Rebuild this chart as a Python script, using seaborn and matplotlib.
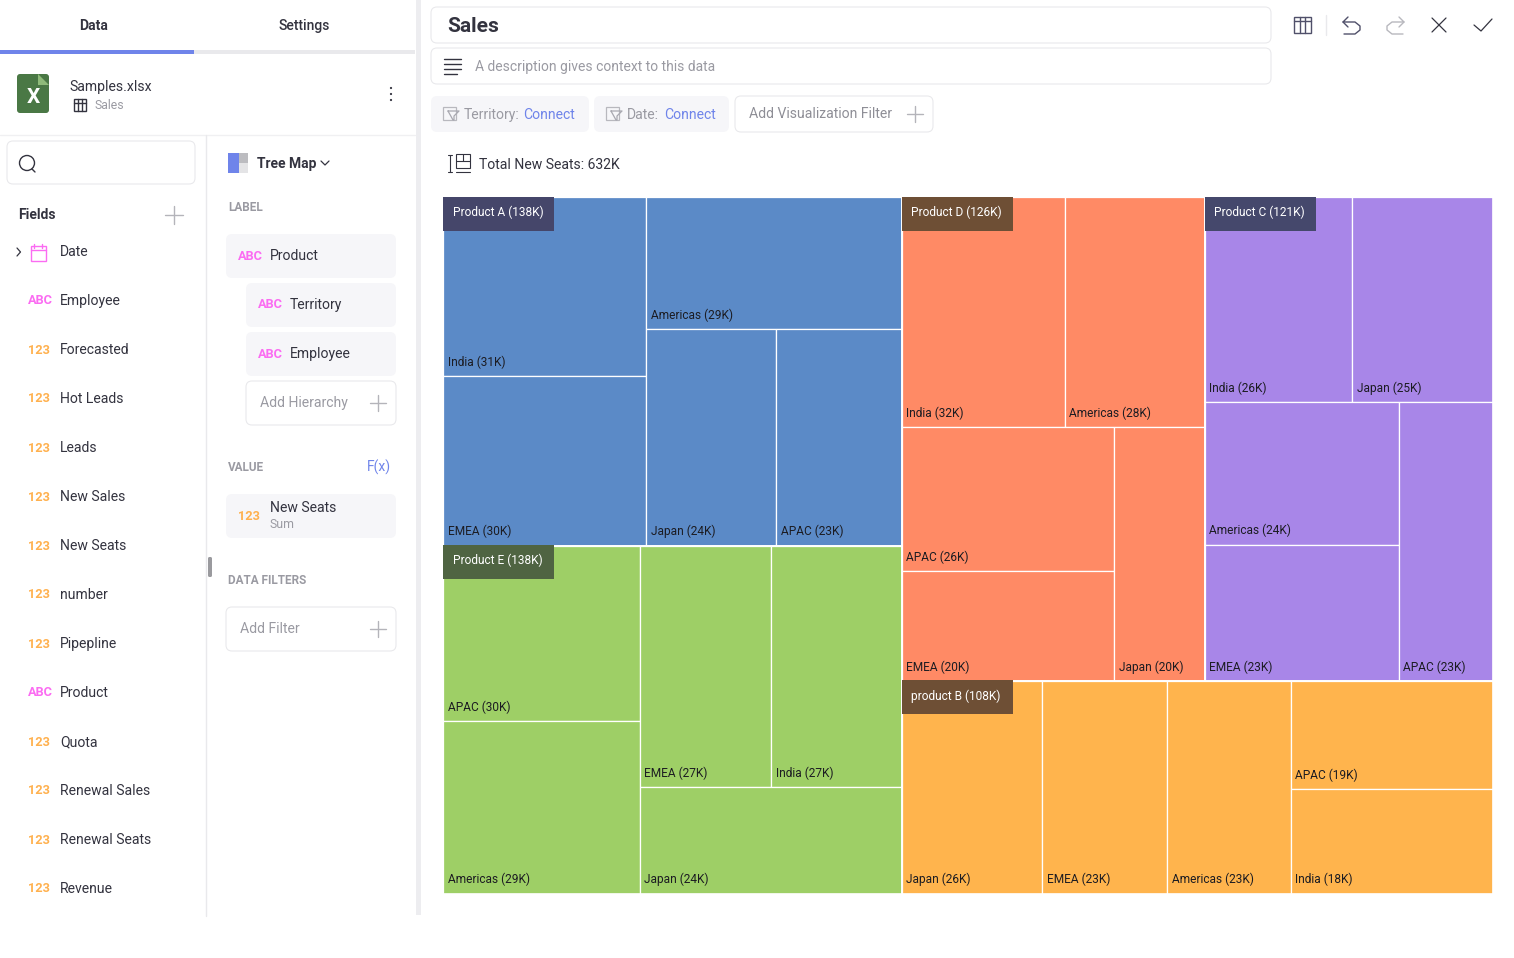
# imports ---------------------------------------------------------------------
import seaborn as sns
from matplotlib import pyplot as plt
from matplotlib.patches import Rectangle, FancyBboxPatch, Circle

# data ------------------------------------------------------------------------
products = ['Product A', 'Product E', 'Product D', 'Product C', 'product B']
product_totals = [138, 138, 126, 121, 108]
territories_a = ['India', 'EMEA', 'Americas', 'Japan', 'APAC']
seats_a = [31.4, 29.8, 29.2, 24.3, 23.4]
territories_e = ['APAC', 'Americas', 'EMEA', 'India', 'Japan']
seats_e = [29.8, 29.3, 27.4, 27.2, 24.1]
territories_d = ['India', 'Americas', 'APAC', 'EMEA', 'Japan']
seats_d = [32.4, 27.9, 26.49, 20.1, 19.8]
territories_c = ['India', 'Japan', 'Americas', 'EMEA', 'APAC']
seats_c = [26.1, 25.0, 23.8, 22.8, 22.7]
territories_b = ['Japan', 'EMEA', 'Americas', 'APAC', 'India']
seats_b = [25.8, 23.0, 22.7, 18.9, 18.2]

field_names = ['Employee', 'Forecasted', 'Hot Leads', 'Leads', 'New Sales', 'New Seats',
               'number', 'Pipepline', 'Product', 'Quota', 'Renewal Sales', 'Renewal Seats',
               'Revenue']
field_types = ['ABC', '123', '123', '123', '123', '123', '123', '123', 'ABC', '123', '123',
               '123', '123']

# styles ----------------------------------------------------------------------
tile_colors = sns.color_palette(['#5b8ac7', '#9ecf66', '#ff8a65', '#a886e8', '#ffb44d'])
badge_colors = ['#45466a', '#4f6442', '#6e4f35', '#45486c', '#6e4f35']
ink = '#33333f'
muted = '#9a9aa2'
line_grey = '#e9e9ec'
chip = '#f6f6f9'
blue = '#6f84ea'
pink = '#fb6cf2'
orange = '#ffb14f'

sns.set_theme(style='white')
plt.rcParams['font.family'] = ['Roboto', 'DejaVu Sans']


# squarified layout -----------------------------------------------------------
def worst(row, side, scale):
    area = sum(row) * scale
    thick = area / side
    ratios = []
    for v in row:
        length = v * scale / thick
        ratios.append(max(length / thick, thick / length))
    return max(ratios)


def squarify(values, x, y, w, h):
    # values have to be sorted big to small, returns (x, y, w, h) for each one
    rects = []
    values = list(values)
    scale = w * h / sum(values)
    while values:
        side = min(w, h)
        row = [values.pop(0)]
        while values and worst(row + [values[0]], side, scale) <= worst(row, side, scale):
            row.append(values.pop(0))
        thick = sum(row) * scale / side
        pos = 0
        for v in row:
            length = v * scale / thick
            if w >= h:
                rects.append((x, y + pos, thick, length))
            else:
                rects.append((x + pos, y, length, thick))
            pos += length
        if w >= h:
            x += thick
            w -= thick
        else:
            y += thick
            h -= thick
    return rects


# chrome helpers --------------------------------------------------------------
fig = plt.figure(figsize=(15.14, 9.58), dpi=100)
ui = fig.add_axes([0, 0, 1, 1])
ui.set_xlim(0, 1514)
ui.set_ylim(958, 0)
ui.axis('off')


def label(x, y, s, size=10, color=ink, weight='normal', ha='left', family=None):
    ui.text(x, y + 1, s, fontsize=size, color=color, fontweight=weight, ha=ha, va='center',
            family=family or ['Roboto', 'DejaVu Sans'])


def box(x0, y0, x1, y1, face='white', edge='none', r=6, lw=0.8):
    ui.add_patch(FancyBboxPatch((x0 + r, y0 + r), x1 - x0 - 2 * r, y1 - y0 - 2 * r,
                                boxstyle=f'round,pad={r},rounding_size={r}',
                                fc=face, ec=edge, lw=lw))


def seg(xs, ys, color=ink, lw=1.0):
    ui.plot(xs, ys, color=color, lw=lw, solid_capstyle='round')


def plus(x, y, size=8, color='#b4b4ba'):
    seg([x - size, x + size], [y, y], color)
    seg([x, x], [y - size, y + size], color)


def type_tag(x, y, kind):
    label(x, y, kind, size=9.2, color=pink if kind == 'ABC' else orange, weight='bold',
          family=['Liberation Sans Narrow', 'Roboto'])


def table_icon(x0, y0, x1, y1, color='#50506a'):
    ui.add_patch(Rectangle((x0, y0), x1 - x0, y1 - y0, fc='none', ec=color, lw=1))
    seg([x0, x1], [y0 + 4, y0 + 4], color, 1)
    for f in (1 / 3, 2 / 3):
        xm = x0 + (x1 - x0) * f
        seg([xm, xm], [y0, y1], color, 1)


def filter_icon(x, y):
    ui.add_patch(Rectangle((x, y), 13, 13, fc='none', ec='#b8b8be', lw=0.9))
    seg([x + 5, x + 16, x + 11, x + 11, x + 10, x + 5], [y + 4, y + 4, y + 9, y + 13, y + 13, y + 4],
        '#a8a8b0', 0.9)


# tabs and source -------------------------------------------------------------
ui.add_patch(Rectangle((0, 50), 194, 4, fc=blue, ec='none'))
ui.add_patch(Rectangle((194, 50), 221, 4, fc=line_grey, ec='none'))
ui.add_patch(Rectangle((416, 0), 5, 915, fc='#ededf0', ec='none'))
label(94, 25, 'Data', size=10, weight='bold', ha='center')
label(304, 25, 'Settings', size=10, weight='medium', ha='center')

box(17, 74, 49, 113, face='#4a7845', r=3)
ui.add_patch(plt.Polygon([[38, 74], [49, 85], [38, 85]], fc='#8fbb7a', ec='none'))
label(33, 96, 'X', size=15, color='white', weight='bold', ha='center')
label(69.5, 86, 'Samples.xlsx', size=10.1)
table_icon(74, 99, 86, 111, ink)
label(94.5, 104, 'Sales', size=8.8, color=muted)
for dot_y in (88, 94, 100):
    ui.add_patch(Circle((391, dot_y), 1.1, fc=ink, ec='none'))

seg([0, 415], [135, 135], '#f0f0f2', 1)
seg([206, 206], [135, 916], line_grey, 1)
box(208, 557, 212, 577, face='#9a9a9e', r=1.5)

# fields column ---------------------------------------------------------------
box(7, 141, 195, 184, edge=line_grey)
ui.add_patch(Circle((27, 163), 7.5, fc='none', ec=ink, lw=1))
seg([32, 35], [169, 172], ink, 1)
label(18, 214, 'Fields', size=10, weight='bold')
plus(174, 215, 9)

seg([17, 20.5, 17], [248, 252, 256], ink, 0.9)
ui.add_patch(Rectangle((30.5, 246), 15, 15, fc='none', ec=pink, lw=1))
seg([30.5, 45.5], [250, 250], pink, 1)
seg([34, 34], [244, 248], pink, 1)
seg([42, 42], [244, 248], pink, 1)
label(60, 251, 'Date', size=10.1)

for i, (field, kind) in enumerate(zip(field_names, field_types)):
    row_y = 300 + i * 49
    type_tag(28, row_y, kind)
    label(60, row_y, field, size=10.1)

# configuration column --------------------------------------------------------
ui.add_patch(Rectangle((228, 153), 11, 20, fc=blue, ec='none'))
ui.add_patch(Rectangle((239, 153), 9, 10, fc='#bcbcc0', ec='none'))
ui.add_patch(Rectangle((239, 163), 9, 10, fc='#e4e4e6', ec='none'))
label(257, 163, 'Tree Map', size=10, weight='bold')
seg([321, 325, 329], [161, 165, 161], ink, 0.9)
label(228, 206, 'LABEL', size=8.5, color=muted, weight='bold')

box(226, 234, 396, 278, face=chip)
type_tag(238, 255, 'ABC')
label(270, 255, 'Product', size=10.1)
box(246, 283, 396, 327, face=chip)
type_tag(258, 304, 'ABC')
label(290, 304, 'Territory', size=10.1)
box(246, 332, 396, 376, face=chip)
type_tag(258, 353, 'ABC')
label(290, 353, 'Employee', size=10.1)
box(246, 381, 396, 425, edge=line_grey)
label(260, 402, 'Add Hierarchy', size=10.1, color=muted)
plus(378, 403)

label(228, 466, 'VALUE', size=8.5, color=muted, weight='bold')
label(367, 466, 'F(x)', size=10, color=blue)
box(226, 494, 396, 538, face=chip)
type_tag(238, 515, '123')
label(270, 507.5, 'New Seats', size=10.1)
label(270, 523.5, 'Sum', size=8.8, color=muted)

label(228, 579, 'DATA FILTERS', size=8.5, color=muted, weight='bold')
box(226, 607, 396, 651, edge=line_grey)
label(240, 628, 'Add Filter', size=10.1, color=muted)
plus(378, 629)

# header ----------------------------------------------------------------------
box(431, 7, 1271, 43, edge=line_grey)
label(447.5, 25, 'Sales', size=15, weight='bold')
box(431, 48, 1271, 84, edge=line_grey)
for line_y, line_x in zip((59, 64, 69, 74), (461, 461, 461, 457)):
    seg([444, line_x], [line_y, line_y], ink, 1)
label(475, 66, 'A description gives context to this data', size=10, color=muted)

box(431, 96, 589, 132, face=chip)
filter_icon(443, 107)
label(464, 114, 'Territory:', size=10.1, color=muted)
label(523.5, 114, 'Connect', size=10.1, color=blue)
box(594, 96, 729, 132, face=chip)
filter_icon(606, 107)
label(627, 114, 'Date:', size=10.1, color=muted)
label(664, 114, 'Connect', size=10.1, color=blue)
box(735, 96, 933, 132, edge=line_grey)
label(749, 113, 'Add Visualization Filter', size=10.1, color='#8e8e96')
plus(915, 114)

table_icon(1294, 17, 1311, 33)
seg([1325.5, 1325.5], [15, 35], line_grey, 1)
seg([1348, 1343, 1355, 1360, 1360, 1355, 1344], [17, 22, 22, 26, 30, 34, 34], '#50506a', 1)
seg([1343, 1348], [22, 27], '#50506a', 1)
seg([1399, 1404, 1392, 1387, 1387, 1392, 1403], [17, 22, 22, 26, 30, 34, 34], '#b8b8be', 1)
seg([1404, 1399], [22, 27], '#b8b8be', 1)
seg([1432, 1446], [18, 32], ink, 0.9)
seg([1432, 1446], [32, 18], ink, 0.9)
seg([1474, 1481, 1492], [25, 31, 19], ink, 0.9)

# size legend icon
seg([450, 450], [155, 172], ink, 0.8)
seg([448, 452], [155, 155], ink, 0.8)
seg([448, 452], [172, 172], ink, 0.8)
ui.add_patch(Rectangle((456, 154), 14, 14, fc='none', ec=ink, lw=0.8))
seg([456, 470], [161, 161], ink, 0.8)
seg([463, 463], [154, 161], ink, 0.8)
seg([456, 470], [172, 172], ink, 0.8)
label(479, 164, 'Total New Seats: 632K', size=10.05)

# tree map --------------------------------------------------------------------
ax = fig.add_axes([443 / 1514, 1 - 893.5 / 958, 1050 / 1514, 696.5 / 958])
ax.set_xlim(0, 1050)
ax.set_ylim(696.5, 0)
ax.axis('off')
ax.patch.set_alpha(0)

leaf_names = [territories_a, territories_e, territories_d, territories_c, territories_b]
leaf_values = [seats_a, seats_e, seats_d, seats_c, seats_b]
product_sizes = [sum(v) for v in leaf_values]
product_rects = squarify(product_sizes, 0, 0, 1050, 696.5)

for i, (px, py, pw, ph) in enumerate(product_rects):
    for name, value, (x, y, w, h) in zip(leaf_names[i], leaf_values[i],
                                         squarify(leaf_values[i], px, py, pw, ph)):
        ax.add_patch(Rectangle((x, y), w, h, fc=tile_colors[i], ec='white', lw=0.9))
        ax.text(x + 4.5, y + h - 14, f'{name} ({round(value)}K)', fontsize=8.55, color='#1c1c22',
                ha='left', va='center')
    ax.add_patch(Rectangle((px, py), pw, ph, fc='none', ec='white', lw=1.2))
    ax.add_patch(Rectangle((px, py - 0.5), 111, 34, fc=badge_colors[i], ec='none'))
    ax.text(px + 9.5, py + 15, f'{products[i]} ({product_totals[i]}K)', fontsize=8.55, color='white',
            ha='left', va='center')

fig.savefig('out.png', dpi=100)
